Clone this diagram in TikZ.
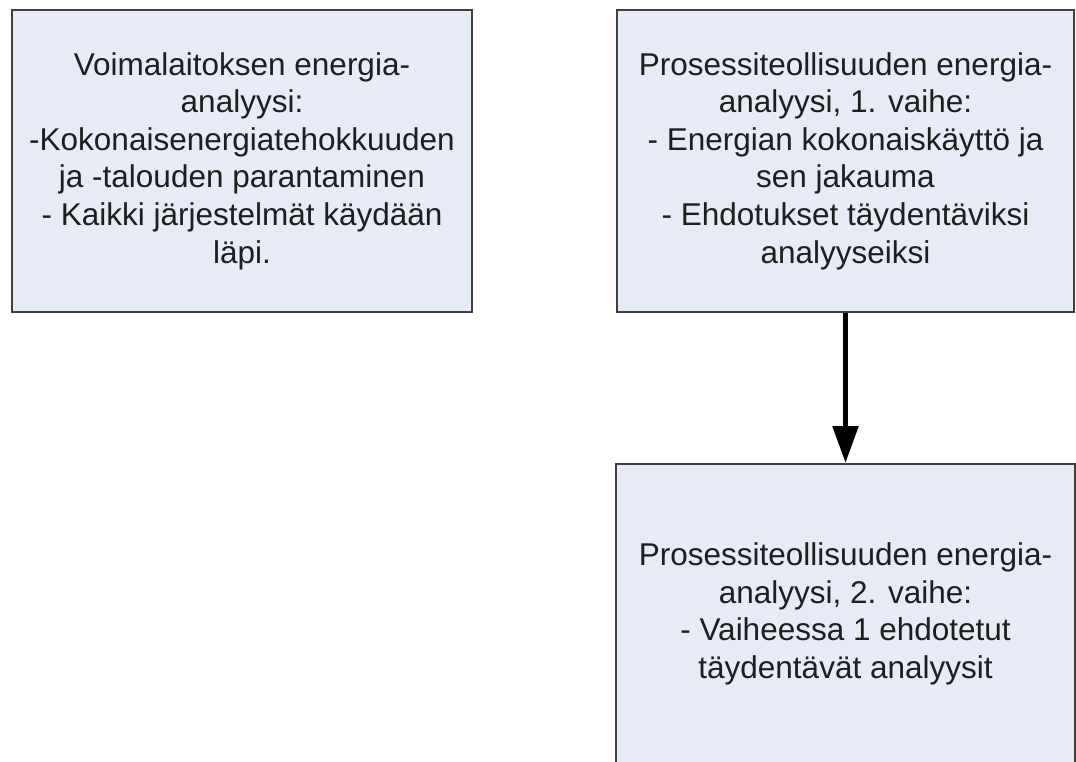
\documentclass[tikz,border=0pt]{standalone}
\usepackage{fontspec}
\setmainfont{Liberation Sans}
\usetikzlibrary{arrows.meta,positioning}
\definecolor{boxfill}{RGB}{230,235,245}
\definecolor{boxline}{RGB}{64,64,64}
\definecolor{txtcol}{RGB}{30,30,30}
\tikzset{
  stage box/.style={rectangle,draw=boxline,fill=boxfill,line width=2pt,inner sep=0pt,
    align=center,text=txtcol,font=\fontsize{31.5}{37.6}\selectfont},
  stage edge/.style={-{Triangle[length=37pt,width=25pt]},line width=5.5pt,black},
}

\begin{document}
\begin{tikzpicture}[x=1pt,y=-1pt]
  \useasboundingbox (0,0) rectangle (1076,761);
  \node[stage box,minimum width=460pt,minimum height=302pt] (plant) at (242,161)
    {Voimalaitoksen energia-\\analyysi:\\-Kokonaisenergiatehokkuuden\\ja -talouden parantaminen\\- Kaikki järjestelmät käydään\\läpi.};
  \node[stage box,minimum width=457pt,minimum height=302pt] (phase1) at (845.5,161)
    {Prosessiteollisuuden energia-\\analyysi, 1. vaihe:\\- Energian kokonaiskäyttö ja\\sen jakauma\\- Ehdotukset täydentäviksi\\analyyseiksi};
  \node[stage box,minimum width=459pt,minimum height=300pt] (phase2) at (845.5,614)
    {Prosessiteollisuuden energia-\\analyysi, 2. vaihe:\\- Vaiheessa 1 ehdotetut\\täydentävät analyysit};
  \draw[stage edge] (phase1) -- (phase2);
\end{tikzpicture}
\end{document}
